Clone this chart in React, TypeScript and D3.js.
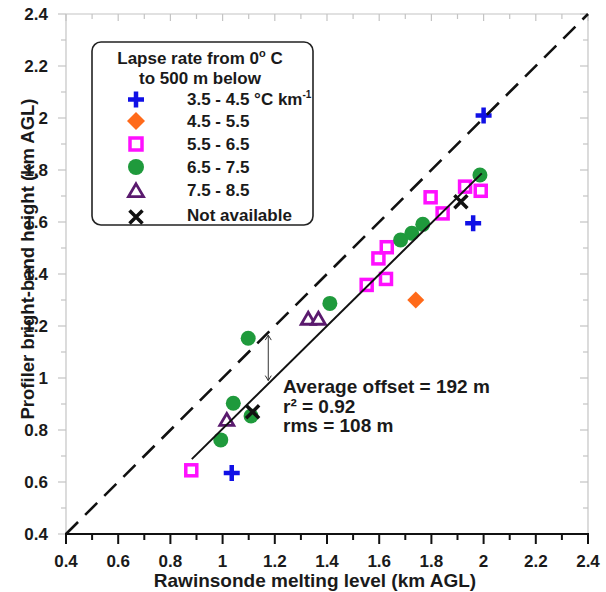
import React from "react";
import * as d3 from "d3";

// ---- data ----
const plusX = [2.0, 1.96, 1.035];
const plusY = [2.01, 1.595, 0.635];
const diamondX = [1.74];
const diamondY = [1.3];
const squareX = [0.88, 1.552, 1.626, 1.597, 1.629, 1.797, 1.843, 1.929, 1.989];
const squareY = [0.645, 1.358, 1.381, 1.46, 1.503, 1.695, 1.633, 1.736, 1.72];
const circleX = [0.993, 1.041, 1.109, 1.098, 1.411, 1.682, 1.725, 1.767, 1.986];
const circleY = [0.762, 0.903, 0.854, 1.153, 1.287, 1.531, 1.557, 1.591, 1.781];
const triangleX = [1.016, 1.328, 1.367];
const triangleY = [0.838, 1.227, 1.227];
const crossX = [1.115, 1.913];
const crossY = [0.87, 1.678];
const fitX = [0.882, 1.993];
const fitY = [0.688, 1.787];
const oneToOne = [0.4, 2.4];
const arrowX = 1.175;
const arrowY = [1.165, 0.99];
const majorTicks = [0.4, 0.6, 0.8, 1.0, 1.2, 1.4, 1.6, 1.8, 2.0, 2.2, 2.4];
const minorTicks = [0.5, 0.7, 0.9, 1.1, 1.3, 1.5, 1.7, 1.9, 2.1, 2.3];
const legendLabels = ["3.5 - 4.5", "4.5 - 5.5", "5.5 - 6.5", "6.5 - 7.5", "7.5 - 8.5", "Not available"];
const statLines = ["Average offset = 192 m", "r² = 0.92", "rms = 108 m"];

const FONT = "'Liberation Sans', Arial, Helvetica, sans-serif";
const C = {
  plus: "#1010e6",
  diamond: "#ff6a1a",
  square: "#ff10ff",
  circle: "#1f9a3c",
  triangle: "#5a1a6e",
  cross: "#111",
  grayAxis: "#c4c4c4",
};

const Plus = ({ cx, cy, s = 8 }: any) => (
  <path d={`M${cx - s},${cy}H${cx + s}M${cx},${cy - s}V${cy + s}`} stroke={C.plus} strokeWidth={4.5} fill="none" />
);
const Diamond = ({ cx, cy, s = 8.5 }: any) => (
  <path d={`M${cx},${cy - s}L${cx + s},${cy}L${cx},${cy + s}L${cx - s},${cy}Z`} fill={C.diamond} />
);
const Square = ({ cx, cy, s = 5.5 }: any) => (
  <rect x={cx - s} y={cy - s} width={2 * s} height={2 * s} fill="white" stroke={C.square} strokeWidth={3.5} />
);
const Circle = ({ cx, cy, r = 7.5 }: any) => <circle cx={cx} cy={cy} r={r} fill={C.circle} />;
const Triangle = ({ cx, cy, s = 7 }: any) => (
  <path
    d={`M${cx},${cy - s * 0.95}L${cx + s},${cy + s * 0.75}L${cx - s},${cy + s * 0.75}Z`}
    fill="white"
    stroke={C.triangle}
    strokeWidth={2.8}
    strokeLinejoin="miter"
  />
);
const Cross = ({ cx, cy, s = 6.5 }: any) => (
  <path
    d={`M${cx - s},${cy - s}L${cx + s},${cy + s}M${cx - s},${cy + s}L${cx + s},${cy - s}`}
    stroke={C.cross}
    strokeWidth={3.5}
    fill="none"
  />
);

export default function App() {
  const W = 606, H = 592;
  const x = d3.scaleLinear().domain([0.4, 2.4]).range([66, 588]);
  const y = d3.scaleLinear().domain([0.4, 2.4]).range([534, 14]);
  const fmt = (v: number) => String(+v.toFixed(1));
  const line = d3.line<[number, number]>().x((d) => x(d[0])).y((d) => y(d[1]));

  const legendRows = [99.5, 121, 144, 167, 191, 217];
  const legendBase = [104.5, 127, 150, 173, 196, 221];
  const lx = 136;

  return (
    <svg width={W} height={H} style={{ position: "absolute", left: 0, top: 0, background: "white" }} fontFamily={FONT}>
      <rect x={0} y={0} width={W} height={H} fill="white" />
      {/* gray frame: left, top, right */}
      <line x1={x(0.4)} x2={x(0.4)} y1={y(0.4)} y2={y(2.4)} stroke={C.grayAxis} strokeWidth={1.2} />
      <line x1={x(0.4)} x2={x(2.4)} y1={y(2.4)} y2={y(2.4)} stroke={C.grayAxis} strokeWidth={1.2} />
      <line x1={x(2.4)} x2={x(2.4)} y1={y(0.4)} y2={y(2.4)} stroke={C.grayAxis} strokeWidth={1.2} />
      {/* left ticks (outward) */}
      {majorTicks.map((t) => (
        <line key={"lm" + t} x1={x(0.4) - 8} x2={x(0.4)} y1={y(t)} y2={y(t)} stroke={C.grayAxis} strokeWidth={1.2} />
      ))}
      {minorTicks.map((t) => (
        <line key={"ln" + t} x1={x(0.4) - 5} x2={x(0.4)} y1={y(t)} y2={y(t)} stroke={C.grayAxis} strokeWidth={1.2} />
      ))}
      {/* top ticks (inward) */}
      {majorTicks.map((t) => (
        <line key={"tm" + t} x1={x(t)} x2={x(t)} y1={y(2.4)} y2={y(2.4) + 7} stroke={C.grayAxis} strokeWidth={1.2} />
      ))}
      {minorTicks.map((t) => (
        <line key={"tn" + t} x1={x(t)} x2={x(t)} y1={y(2.4)} y2={y(2.4) + 5} stroke={C.grayAxis} strokeWidth={1.2} />
      ))}
      {/* right ticks (inward) */}
      {majorTicks.map((t) => (
        <line key={"rm" + t} x1={x(2.4) - 8} x2={x(2.4)} y1={y(t)} y2={y(t)} stroke={C.grayAxis} strokeWidth={1.2} />
      ))}
      {minorTicks.map((t) => (
        <line key={"rn" + t} x1={x(2.4) - 5} x2={x(2.4)} y1={y(t)} y2={y(t)} stroke={C.grayAxis} strokeWidth={1.2} />
      ))}
      {/* bottom axis black */}
      <line x1={x(0.4) - 1} x2={x(2.4) + 1} y1={y(0.4)} y2={y(0.4)} stroke="#111" strokeWidth={2} />
      {majorTicks.map((t) => (
        <line key={"bm" + t} x1={x(t)} x2={x(t)} y1={y(0.4)} y2={y(0.4) + 10} stroke="#111" strokeWidth={2} />
      ))}
      {minorTicks.map((t) => (
        <line key={"bn" + t} x1={x(t)} x2={x(t)} y1={y(0.4)} y2={y(0.4) + 6} stroke="#111" strokeWidth={2} />
      ))}
      {/* tick labels */}
      {majorTicks.map((t) => (
        <text key={"xl" + t} x={x(t)} y={567} textAnchor="middle" fontSize={17} fontWeight="bold" fill="#1a1a1a">
          {fmt(t)}
        </text>
      ))}
      {majorTicks.map((t) => (
        <text key={"yl" + t} x={48} y={y(t) + 6} textAnchor="end" fontSize={17} fontWeight="bold" fill="#1a1a1a">
          {fmt(t)}
        </text>
      ))}
      {/* axis titles */}
      <text x={315} y={586.5} textAnchor="middle" fontSize={19} fontWeight="bold" fill="#1a1a1a">
        Rawinsonde melting level (km AGL)
      </text>
      <text
        transform={`translate(34,259) rotate(-90)`}
        textAnchor="middle"
        fontSize={18.5}
        fontWeight="bold"
        fill="#1a1a1a"
      >
        Profiler bright-band height (km AGL)
      </text>

      {/* markers */}
      {squareX.map((v, i) => <Square key={"s" + i} cx={x(v)} cy={y(squareY[i])} />)}
      {circleX.map((v, i) => <Circle key={"c" + i} cx={x(v)} cy={y(circleY[i])} />)}
      {triangleX.map((v, i) => <Triangle key={"t" + i} cx={x(v)} cy={y(triangleY[i])} />)}
      {diamondX.map((v, i) => <Diamond key={"d" + i} cx={x(v)} cy={y(diamondY[i])} />)}
      {plusX.map((v, i) => <Plus key={"p" + i} cx={x(v)} cy={y(plusY[i])} />)}

      {/* 1:1 dashed line */}
      <path
        d={line([[oneToOne[0], oneToOne[0]], [oneToOne[1], oneToOne[1]]]) || ""}
        stroke="#111"
        strokeWidth={2.6}
        strokeDasharray="17,10"
        fill="none"
      />
      {/* fit line */}
      <path d={line([[fitX[0], fitY[0]], [fitX[1], fitY[1]]]) || ""} stroke="#111" strokeWidth={2} fill="none" />

      {crossX.map((v, i) => <Cross key={"x" + i} cx={x(v)} cy={y(crossY[i])} />)}

      {/* double arrow */}
      <g stroke="#333" strokeWidth={1} fill="none">
        <line x1={x(arrowX)} x2={x(arrowX)} y1={y(arrowY[0])} y2={y(arrowY[1])} />
        <path d={`M${x(arrowX) - 3},${y(arrowY[0]) + 5}L${x(arrowX)},${y(arrowY[0])}L${x(arrowX) + 3},${y(arrowY[0]) + 5}`} />
        <path d={`M${x(arrowX) - 3},${y(arrowY[1]) - 5}L${x(arrowX)},${y(arrowY[1])}L${x(arrowX) + 3},${y(arrowY[1]) - 5}`} />
      </g>

      {/* stats */}
      {statLines.map((s, i) => (
        <text key={"st" + i} x={283} y={393 + i * 19.5} fontSize={19} fontWeight="bold" fill="#1a1a1a">
          {s}
        </text>
      ))}

      {/* legend */}
      <rect x={92} y={42} width={221} height={183} rx={9} ry={9} fill="white" stroke="#222" strokeWidth={1.6} />
      <text x={200} y={64} textAnchor="middle" fontSize={17} fontWeight="bold" fill="#1a1a1a">
        Lapse rate from 0<tspan fontSize={11} dy={-7}>o</tspan>
        <tspan dy={7}> C</tspan>
      </text>
      <text x={200} y={83.5} textAnchor="middle" fontSize={17} fontWeight="bold" fill="#1a1a1a">
        to 500 m below
      </text>
      <Plus cx={lx} cy={legendRows[0]} />
      <Diamond cx={lx} cy={legendRows[1]} s={9} />
      <Square cx={lx} cy={legendRows[2]} s={6} />
      <Circle cx={lx} cy={legendRows[3]} r={8} />
      <Triangle cx={lx} cy={legendRows[4]} s={7.5} />
      <Cross cx={lx} cy={legendRows[5]} />
      {legendLabels.map((l, i) => (
        <text key={"lg" + i} x={187} y={legendBase[i]} fontSize={17} fontWeight="bold" fill="#1a1a1a">
          {l}
          {i === 0 ? (
            <>
              <tspan> °C km</tspan>
              <tspan fontSize={10} dy={-7}>-1</tspan>
            </>
          ) : null}
        </text>
      ))}
    </svg>
  );
}
